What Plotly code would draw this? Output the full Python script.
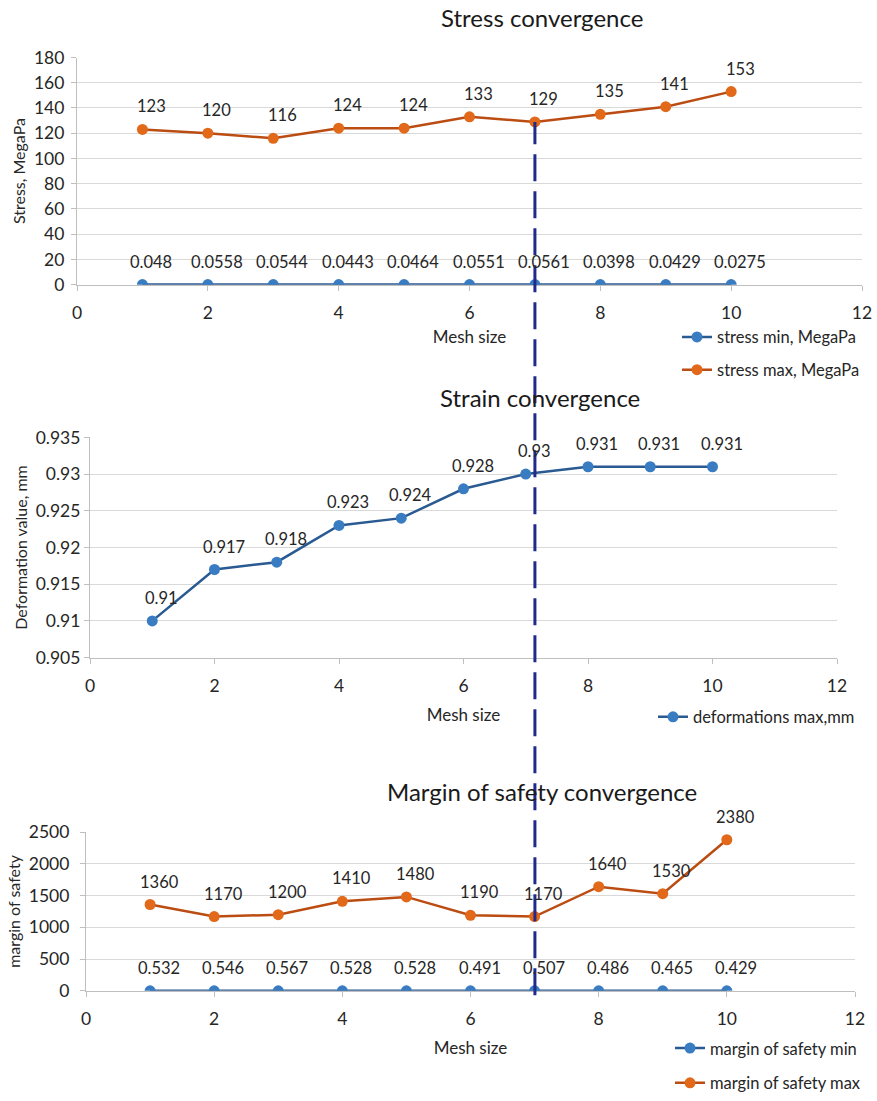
import plotly.graph_objects as go

# ---- data -------------------------------------------------------------
mesh_size = [1, 2, 3, 4, 5, 6, 7, 8, 9, 10]

stress_min = [0.048, 0.0558, 0.0544, 0.0443, 0.0464, 0.0551, 0.0561, 0.0398, 0.0429, 0.0275]
stress_max = [123, 120, 116, 124, 124, 133, 129, 135, 141, 153]

deformation_max = [0.91, 0.917, 0.918, 0.923, 0.924, 0.928, 0.93, 0.931, 0.931, 0.931]

safety_min = [0.532, 0.546, 0.567, 0.528, 0.528, 0.491, 0.507, 0.486, 0.465, 0.429]
safety_max = [1360, 1170, 1200, 1410, 1480, 1190, 1170, 1640, 1530, 2380]

chosen_mesh = 7  # mesh size where the results settle

# ---- styling ----------------------------------------------------------
W, H = 877, 1101
FONT = "Lato, 'Open Sans', sans-serif"
BLUE_LINE, BLUE_MARK = "#2a5a92", "#3a7cc2"
ORANGE_LINE, ORANGE_MARK = "#bb4c12", "#e2691a"
AXIS_GREY, GRID_GREY = "#bfbfbf", "#d9d9d9"
TEXT = "#262626"


def px_x(p):
    return p / W


def px_y(p):
    return 1 - p / H


# plot-area domains (x from left pixel to right pixel, y from bottom to top)
dom = {
    1: dict(x=[px_x(77), px_x(862)], y=[px_y(287), px_y(58)]),
    2: dict(x=[px_x(90), px_x(837)], y=[px_y(663), px_y(441)]),
    3: dict(x=[px_x(86), px_x(855)], y=[px_y(999), px_y(839)]),
}

fig = go.Figure()


def add_series(values, idx, name, line_c, mark_c, legend):
    sfx = "" if idx == 1 else str(idx)
    fig.add_trace(go.Scatter(
        x=mesh_size, y=values, name=name, mode="lines+markers",
        line=dict(color=line_c, width=2.5),
        marker=dict(color=mark_c, size=11, line=dict(width=0)),
        xaxis="x" + sfx, yaxis="y" + sfx, legend=legend, showlegend=True,
    ))
    for xv, yv in zip(mesh_size, values):
        fig.add_annotation(
            x=xv, y=yv, xref="x" + sfx, yref="y" + sfx, text=str(yv),
            showarrow=False, xshift=9, yshift=23,
            font=dict(family=FONT, size=16.5, color=TEXT),
        )


add_series(stress_min, 1, "stress min, MegaPa", BLUE_LINE, BLUE_MARK, "legend")
add_series(stress_max, 1, "stress max, MegaPa", ORANGE_LINE, ORANGE_MARK, "legend2")
add_series(deformation_max, 2, "deformations max,mm", BLUE_LINE, BLUE_MARK, "legend3")
add_series(safety_min, 3, "margin of safety min", BLUE_LINE, BLUE_MARK, "legend4")
add_series(safety_max, 3, "margin of safety max", ORANGE_LINE, ORANGE_MARK, "legend5")


def x_axis(idx, anchor, title_gap):
    return dict(
        domain=dom[idx]["x"], anchor=anchor, range=[0, 12], dtick=2, tick0=0,
        showgrid=False, zeroline=False, showline=True, linecolor=AXIS_GREY,
        linewidth=1.2, ticks="outside", ticklen=5, tickcolor=AXIS_GREY,
        ticklabelstandoff=7,
        tickfont=dict(family=FONT, size=17.5, color=TEXT),
        title=dict(text="Mesh size", font=dict(family=FONT, size=17, color=TEXT),
                   standoff=title_gap),
        automargin=False,
    )


def y_axis(idx, anchor, rng, dtick, title, standoff):
    return dict(
        domain=dom[idx]["y"], anchor=anchor, range=rng, dtick=dtick, tick0=rng[0],
        showgrid=True, gridcolor=GRID_GREY, gridwidth=1.2, zeroline=False,
        showline=True, linecolor=AXIS_GREY, linewidth=1.2,
        ticks="outside", ticklen=5, tickcolor=AXIS_GREY,
        ticklabelstandoff=standoff,
        tickfont=dict(family=FONT, size=17.5, color=TEXT),
        title=dict(text=title, font=dict(family=FONT, size=16, color=TEXT), standoff=4),
        automargin=False,
    )


fig.update_layout(
    width=W, height=H, margin=dict(l=0, r=0, t=0, b=0),
    paper_bgcolor="white", plot_bgcolor="white",
    font=dict(family=FONT, color=TEXT),
    xaxis=x_axis(1, "y", 9),
    yaxis=y_axis(1, "x", [0, 180], 20, "Stress, MegaPa", 3),
    xaxis2=x_axis(2, "y2", 14),
    yaxis2=y_axis(2, "x2", [0.905, 0.935], 0.005, "Deformation value, mm", 0),
    xaxis3=x_axis(3, "y3", 14),
    yaxis3=y_axis(3, "x3", [0, 2500], 500, "margin of safety", 7),
)

leg_common = dict(
    xanchor="left", yanchor="middle", bgcolor="rgba(0,0,0,0)",
    font=dict(family=FONT, size=16.5, color=TEXT), itemwidth=30,
)
fig.update_layout(
    legend=dict(x=px_x(677), y=px_y(340), **leg_common),
    legend2=dict(x=px_x(677), y=px_y(373), **leg_common),
    legend3=dict(x=px_x(653), y=px_y(723), **leg_common),
    legend4=dict(x=px_x(670), y=px_y(1057), **leg_common),
    legend5=dict(x=px_x(670), y=px_y(1092), **leg_common),
)

# chart titles
for text, xc, yc in [
    ("Stress convergence", 542, 18),
    ("Strain convergence", 540, 401),
    ("Margin of safety convergence", 542, 798),
]:
    fig.add_annotation(
        x=px_x(xc), y=px_y(yc), xref="paper", yref="paper", text=text,
        showarrow=False, xanchor="center", yanchor="middle",
        font=dict(family=FONT, size=24, color="#1a1a1a"),
    )

# dashed marker at the chosen mesh size, running from the stress curve
# down through all three charts
y_top_frac = stress_max[mesh_size.index(chosen_mesh)] / 180
y_top = dom[1]["y"][0] + y_top_frac * (dom[1]["y"][1] - dom[1]["y"][0])
fig.add_shape(
    type="line", xref="x", yref="paper",
    x0=chosen_mesh, x1=chosen_mesh, y0=dom[3]["y"][0] - 0.004, y1=y_top,
    line=dict(color="#1f2a8c", width=3, dash="27px,10px"), layer="above",
)

fig.write_html("out.html")
